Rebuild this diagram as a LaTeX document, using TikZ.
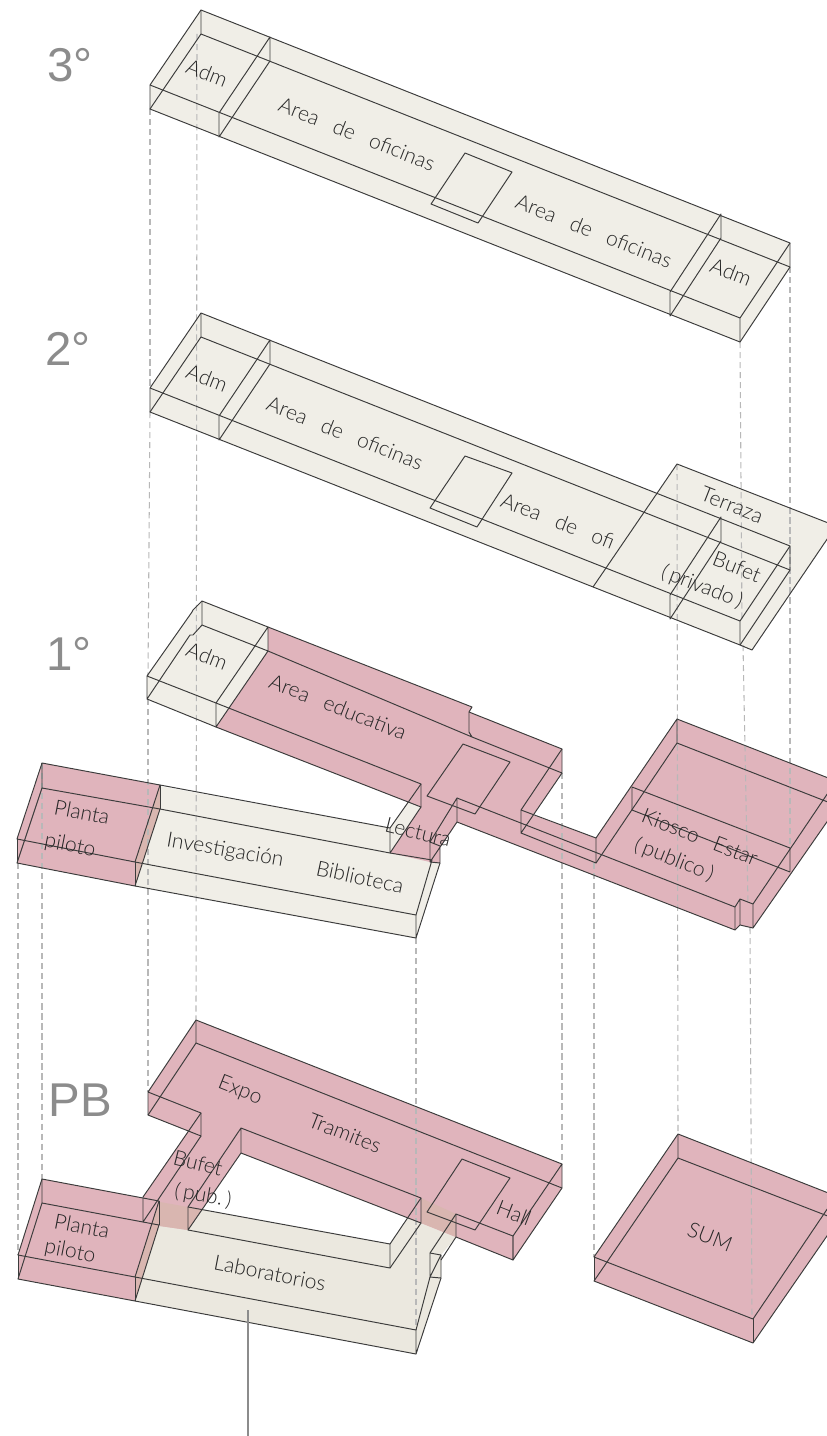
\documentclass[tikz,border=0pt]{standalone}
\usepackage{xcolor}
\usepackage{fontspec}
\setmainfont{Lato Light}
\newfontfamily\nivelfont{Liberation Sans}
\definecolor{LosaCrema}{HTML}{F0EEE7}
\definecolor{LosaLab}{HTML}{EBE8DF}
\definecolor{LosaRosa}{HTML}{E0B4BC}
\definecolor{LosaCruce}{HTML}{D9B6B0}
\definecolor{Trazo}{HTML}{3C3C3C}
\definecolor{Letra}{HTML}{262626}
\definecolor{Guia}{HTML}{B8B8B8}
\definecolor{Nivel}{HTML}{8C8C8C}
\newcommand{\esp}{\hspace{0.78em}}
\tikzset{
  % Wall lines and slabs
  pared/.style={draw=Trazo,line width=0.55pt,line join=round},
  crema/.style={fill=LosaCrema},
  rosa/.style={fill=LosaRosa},
  guia/.style={draw=Guia,line width=0.6pt,dash pattern=on 3.5pt off 2.2pt},
  % Label styles
  rot/.style={font=\fontsize{12}{14}\selectfont,text=Letra,inner sep=0pt,rotate=#1},
  rot/.default=-21.5,
  piso/.style={font=\nivelfont\fontsize{27}{30}\selectfont,text=Nivel,inner sep=0pt}
}
\begin{document}
\begin{tikzpicture}[x=0.02cm,y=-0.02cm]
  \clip (0,0) rectangle (827,1436);
  % Slabs
  \fill[crema] (677,464) -- (836,526) -- (752,650) -- (740,645) -- (593,587) -- cycle;
  \foreach \dy in {0,303}{
    \fill[crema,shift={(0,\dy)}] (150,85) -- (201,10) -- (790,243) -- (790,267) -- (740,342) -- (150,109) -- cycle;
  }
  \fill[crema] (202,601) -- (193,610) -- (147,676) -- (147,699) -- (216,727) -- (268,651) -- (268,627) -- cycle;
  \fill[crema] (159,786) -- (390,828) -- (411,798) -- (421,807) -- (430,862) -- (440,863) -- (416,938) -- (135,886) -- cycle;
  \fill[rosa] (268,627) -- (472,707) -- (469,712) -- (562,749) -- (562,773) -- (533,815) -- (596,838) -- (677,719)
    -- (836,781) -- (838,806) -- (753,928) -- (740,925) -- (735,930) -- (457,822) -- (440,848) -- (440,863)
    -- (430,862) -- (390,853) -- (421,807) -- (216,727) -- (268,651) -- cycle;
  \fill[rosa] (42,763) -- (160,785) -- (160,809) -- (135,886) -- (17,863) -- (17,839) -- cycle;
  \fill[LosaCruce] (160,785) -- (160,809) -- (135,886) -- (135,862) -- cycle;
  \fill[LosaLab] (160,1202) -- (188,1207) -- (390,1244) -- (408,1218) -- (456,1237) -- (441,1255) -- (441,1278) -- (416,1354) -- (135,1301) -- cycle;
  \fill[rosa] (196,1020) -- (562,1164) -- (562,1188) -- (513,1260) -- (421,1223) -- (241,1153) -- (188,1230) -- (160,1226)
    -- (143,1222) -- (143,1197) -- (188.5,1131) -- (148,1115) -- (148,1092) -- cycle;
  \fill[rosa] (42,1179) -- (159,1201) -- (159,1225) -- (135,1301) -- (18,1279) -- (18,1255) -- cycle;
  \fill[LosaCruce] (159,1201) -- (159,1225) -- (135,1301) -- (135,1277) -- cycle;
  \fill[LosaCruce] (160,1202) -- (188,1207) -- (201,1210) -- (188,1230) -- (160,1226) -- cycle;
  \fill[LosaCruce] (421,1198) -- (456,1214) -- (456,1237) -- (421,1223) -- cycle;
  \fill[rosa] (678,1134) -- (836,1196) -- (838,1220) -- (753,1343) -- (594,1281) -- (594,1257) -- cycle;
  % Guides between floors
  \foreach \xa/\ya/\xb/\yb in {150/109/150/388,150/412/148/676,148/699/148/1092,197/34/196/1020,
      18/863/18/1255,42/763/42/1179,416/938/416/1330,562/773/562/1164,594/863/594/1257,
      677/464/678/1134,740/342/742/621,743/645/748/904,750/928/752/1319,790/267/790/848}{
    \draw[guia] (\xa,\ya) -- (\xb,\yb);
  }
  % 3 and 2
  \foreach \dy in {0,303}{
    \begin{scope}[shift={(0,\dy)}]
      \draw[pared] (150,85) -- (201,10) -- (790,243) -- (790,267) -- (740,342) -- (150,109) -- cycle;
      \draw[pared] (150,85) -- (740,318) -- (790,243) (740,318) -- (740,342);
      \draw[pared] (150,109) -- (201,34) -- (790,267) (201,10) -- (201,34);
      \draw[pared] (270,37) -- (270,61) -- (219,137) -- (219,113) -- cycle;
      \draw[pared] (721,214) -- (721,238) -- (670,316) -- (670,292) -- cycle;
    \end{scope}
  }
  \draw[pared] (465,153) -- (512,172) -- (478,223) -- (431,204) -- cycle;
  \draw[pared] (465,456) -- (512,473) -- (477,527) -- (430,508) -- cycle;
  \draw[pared] (593,587) -- (677,464) -- (836,526) -- (752,650) -- (740,645);
  % 1
  \draw[pared] (268,627) -- (202,601) -- (202,625) -- (268,651) -- (268,627) -- (216,703) -- (216,727) -- (268,651);
  \draw[pared] (202,601) -- (193,610) -- (192,612) -- (147,676) -- (147,699) -- (190,635) -- (193,635) -- (202,625);
  \draw[pared] (147,676) -- (216,703) -- (421,784) -- (421,807);
  \draw[pared] (147,699) -- (216,727) -- (421,807) -- (390,853) -- (390,828) -- (421,784);
  \draw[pared] (268,627) -- (472,707) -- (469,712) -- (469,732) -- (472,737) -- (268,651);
  \draw[pared] (469,712) -- (562,749) -- (562,773) -- (472,737);
  \draw[pared] (562,749) -- (521,810) -- (521,833) -- (562,773);
  \draw[pared] (521,810) -- (596,838) -- (596,863) -- (521,833);
  \draw[pared] (596,838) -- (677,719) -- (677,743) -- (596,863);
  \draw[pared] (677,719) -- (836,781) -- (753,904) -- (753,928) -- (838,806) -- (677,743);
  \draw[pared] (632,787) -- (790,848) -- (790,872) (632,787) -- (632,810) -- (790,872);
  \draw[pared] (463,744) -- (510,762) -- (475,814) -- (427,796) -- cycle;
  \draw[pared] (430,842) -- (457,798) -- (457,822) -- (430,862) -- (430,842) -- (440,846) -- (440,863) -- (430,862);
  \draw[pared] (457,798) -- (735,907) -- (735,930) -- (457,822);
  \draw[pared] (735,907) -- (740,899) -- (753,904) (735,930) -- (740,925) -- (753,928) (740,899) -- (740,925);
  % Investigacion
  \draw[pared] (42,763) -- (160,785) -- (135,862) -- (17,839) -- cycle;
  \draw[pared] (42,763) -- (42,788) -- (160,809) -- (135,886) -- (17,863) -- (42,788);
  \draw[pared] (17,839) -- (17,863) (135,862) -- (135,886) (160,785) -- (160,809);
  \draw[pared] (160,785) -- (390,828) (160,809) -- (390,853) -- (432,860) -- (416,915) -- (135,862);
  \draw[pared] (135,886) -- (416,938) -- (416,915) (416,938) -- (440,863);
  % PB
  \draw[pared] (196,1020) -- (562,1164) -- (562,1188) -- (513,1260) -- (513,1236) -- (562,1164);
  \draw[pared] (196,1020) -- (196,1043) -- (562,1188);
  \draw[pared] (196,1020) -- (148,1092) -- (148,1115) -- (201,1136) -- (201,1113) -- (148,1092);
  \draw[pared] (148,1115) -- (196,1043);
  \draw[pared] (201,1113) -- (143,1197) -- (143,1222) -- (201,1136);
  \draw[pared] (241,1128) -- (241,1153) -- (188,1230) -- (188,1207) -- (241,1128) -- (421,1198) -- (421,1223) -- (241,1153);
  \draw[pared] (188,1207) -- (390,1244) -- (390,1268) -- (188,1230);
  \draw[pared] (421,1198) -- (390,1244) (421,1223) -- (390,1268);
  \draw[pared] (456,1214) -- (513,1236) -- (513,1260) -- (456,1237) -- cycle;
  \draw[pared] (462,1159) -- (510,1178) -- (475,1230) -- (427,1212) -- cycle;
  \draw[pared] (456,1214) -- (430,1253) -- (430,1277) -- (441,1255) (456,1237) -- (441,1260);
  \draw[pared] (430,1253) -- (441,1255) -- (441,1278) -- (430,1277);
  \draw[pared] (441,1278) -- (416,1354) -- (416,1330) -- (430,1277);
  \draw[pared] (42,1179) -- (159,1201) -- (135,1277) -- (18,1255) -- cycle;
  \draw[pared] (42,1179) -- (42,1203) -- (159,1225) -- (135,1301) -- (18,1279) -- (42,1203);
  \draw[pared] (18,1255) -- (18,1279) (135,1277) -- (135,1301) (159,1201) -- (159,1225);
  \draw[pared] (135,1277) -- (416,1330) (135,1301) -- (416,1354);
  % SUM
  \draw[pared] (678,1134) -- (836,1196) -- (753,1319) -- (594,1257) -- cycle;
  \draw[pared] (678,1134) -- (678,1158) -- (838,1220) -- (753,1343) -- (594,1281) -- (678,1158);
  \draw[pared] (594,1257) -- (594,1281) (753,1319) -- (753,1343);
  \draw[Nivel,line width=0.6pt] (248,1310) -- (248,1436);
  % Labels
  \node[piso] (n3) at (70,65) {3°};
  \node[piso] (n2) at (68,349) {2°};
  \node[piso] (n1) at (69,654) {1°};
  \node[piso] (npb) at (80,1100) {PB};
  \node[rot] (adm3a) at (207,73) {Adm};
  \node[rot] (ofi3a) at (357,134) {Area\esp de\esp oficinas};
  \node[rot] (ofi3b) at (594,231) {Area\esp de\esp oficinas};
  \node[rot] (adm3b) at (731,272) {Adm};
  \node[rot] (adm2) at (207,378) {Adm};
  \node[rot] (ofi2a) at (345,433) {Area\esp de\esp oficinas};
  \node[rot] (ofi2b) at (558,521) {Area\esp de\esp ofi};
  \node[rot] (terraza) at (732,505) {Terraza};
  \node[rot] (bufet2) at (737,567) {Bufet};
  \node[rot] (priv) at (702,587) {(\,privado\,)};
  \node[rot] (adm1) at (207,656) {Adm};
  \node[rot] (educ) at (338,707) {Area\esp educativa};
  \node[rot=-14] (lect) at (418,832) {Lectura};
  \node[rot=-10] (inv) at (225,851) {Investigación};
  \node[rot=-12] (bib) at (360,877) {Biblioteca};
  \node[rot=-11] (pl1) at (82,812) {Planta};
  \node[rot=-11] (pi1) at (70,846) {piloto};
  \node[rot] (kio) at (700,837) {Kiosco\esp Estar};
  \node[rot] (pub1) at (674,860) {(\,publico\,)};
  \node[rot] (expo) at (240,1091) {Expo};
  \node[rot] (tram) at (345,1133) {Tramites};
  \node[rot=-14] (bufpb) at (198,1163) {Bufet};
  \node[rot=-10] (pub) at (203,1196) {(\,pub.\,)};
  \node[rot=-11] (pl0) at (82,1226) {Planta};
  \node[rot=-11] (pi0) at (70,1252) {piloto};
  \node[rot=-11] (lab) at (270,1273) {Laboratorios};
  \node[rot] (hall) at (514,1213) {Hall};
  \node[rot] (sum) at (710,1237) {SUM};
\end{tikzpicture}
\end{document}
